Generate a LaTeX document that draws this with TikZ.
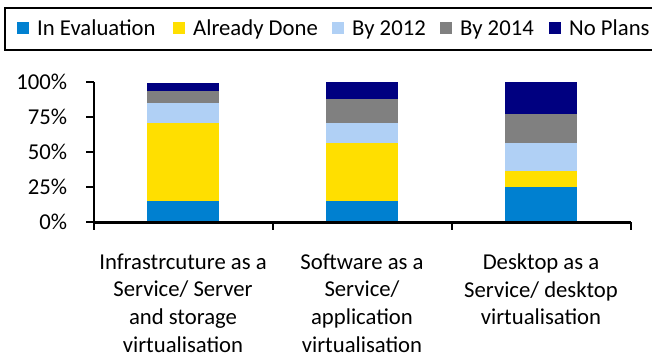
\documentclass[tikz,border=0pt]{standalone}
\usepackage{fontspec}
\setmainfont{Carlito}
\definecolor{evalblue}{RGB}{0,128,208}
\definecolor{doneyellow}{RGB}{255,223,0}
\definecolor{lightblue}{RGB}{176,208,245}
\definecolor{midgray}{RGB}{128,128,128}
\definecolor{navyblue}{RGB}{0,0,128}
\tikzset{x=1pt, y=-1pt}
\tikzset{chartfont/.style={font=\fontsize{22.7pt}{27.7pt}\selectfont}}

\begin{document}
\begin{tikzpicture}[chartfont]
\useasboundingbox (0,0) rectangle (652,358);
\clip (0,0) rectangle (652,358);
\fill[white] (0,0) rectangle (652,358);
% legend
\draw[line width=1.5pt] (5,8) rectangle (662,50);
\foreach \lx/\col/\txt [count=\i] in {17/evalblue/In Evaluation, 173/doneyellow/Already Done,
  332/lightblue/By 2012, 440/midgray/By 2014, 549/navyblue/No Plans}{
\fill[\col] (\lx,22) rectangle ++(12,12);
\node[anchor=base west, inner sep=0pt] (leg\i) at (\lx+20,36) {\txt};}
% bars, axis and ticks: 0 at y=222.3, 100% = 140px
\begin{scope}[shift={(94,222.3)}, y=1.4pt]
\foreach \cx/\a/\b/\c/\d/\e in {89/15/71/85/94/99.5, 268/15/57/71/88/100, 447/25/37/57/77/100}{
\fill[evalblue]   (\cx-36,0)  rectangle (\cx+36,\a);
\fill[doneyellow] (\cx-36,\a) rectangle (\cx+36,\b);
\fill[lightblue]  (\cx-36,\b) rectangle (\cx+36,\c);
\fill[midgray]    (\cx-36,\c) rectangle (\cx+36,\d);
\fill[navyblue]   (\cx-36,\d) rectangle (\cx+36,\e);}
\draw[line width=2.5pt] (0,100) -- (0,0) -- (537,0); %edit here for the axes
\foreach \v in {0,25,...,100}
\draw[shift={(0,\v)}, line width=2pt] (0pt,0) -- (-8pt,0)
  node[anchor=base east, inner sep=0pt, xshift=-18pt, yshift=-7.3pt] (ylab\v) {\v\%};
\foreach \x in {0,179,358,537}
\draw[shift={(\x,0)}, line width=2pt] (0pt,0pt) -- (0pt,-8pt);
\end{scope}
% category labels
\node[anchor=north, inner sep=0pt, align=center] (iaas) at (183,253.5)
  {Infrastrcuture as a\\Service/ Server\\and storage\\virtualisation};
\node[anchor=north, inner sep=0pt, align=center] (saas) at (362,253.5)
  {Software as a\\Service/\\application\\virtualisation};
\node[anchor=north, inner sep=0pt, align=center] (daas) at (541,253.5)
  {Desktop as a\\Service/ desktop\\virtualisation};
\end{tikzpicture}
\end{document}
